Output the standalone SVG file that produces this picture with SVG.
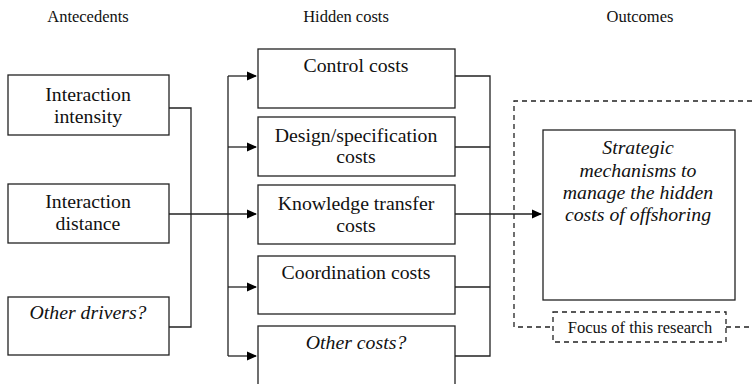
<svg xmlns="http://www.w3.org/2000/svg" width="752" height="384" viewBox="0 0 752 384">
<defs>
<marker id="arr" markerWidth="10" markerHeight="10" refX="9" refY="5" orient="auto" markerUnits="userSpaceOnUse">
<path d="M0,0.5 L10,5 L0,9.5 Z" fill="#000"/>
</marker>
</defs>
<style>
.box{fill:#fff;stroke:#222;stroke-width:1.3}
.t{font-size:19.8px;fill:#111;text-anchor:middle}
.i{font-style:italic}
.h{font-size:16.5px;fill:#111;text-anchor:middle}
.c{fill:none;stroke:#222;stroke-width:1.3}
.d{fill:none;stroke:#222;stroke-width:1.3;stroke-dasharray:5,4}
</style>
<rect width="752" height="384" fill="#fff"/>
<g font-family="'Liberation Serif', 'DejaVu Serif', serif">
<g id="headers">
<text class="h" x="88" y="22">Antecedents</text>
<text class="h" x="346" y="22">Hidden costs</text>
<text class="h" x="640" y="22">Outcomes</text>
</g>
<g id="focus-area">
<path class="d" d="M752,101 H514 V327 H553 M726,327 H752"/>
</g>
<g id="connectors">
<path class="c" d="M169,108 H191 V327 H169"/>
<path class="c" d="M169,214 H256" marker-end="url(#arr)"/>
<path class="c" d="M228,356 V76"/>
<path class="c" d="M228,76 H256" marker-end="url(#arr)"/>
<path class="c" d="M228,147 H256" marker-end="url(#arr)"/>
<path class="c" d="M228,287 H256" marker-end="url(#arr)"/>
<path class="c" d="M228,356 H256" marker-end="url(#arr)"/>
<path class="c" d="M455,76 H490 V356 H455 M455,147 H490 M455,287 H490"/>
<path class="c" d="M455,214 H541" marker-end="url(#arr)"/>
</g>
<g id="a1"><rect class="box" x="8" y="75" width="161" height="60"/>
<text class="t" x="88" y="101">Interaction</text><text class="t" x="88" y="123">intensity</text></g>
<g id="a2"><rect class="box" x="8" y="184" width="161" height="59"/>
<text class="t" x="88" y="208">Interaction</text><text class="t" x="88" y="230">distance</text></g>
<g id="a3"><rect class="box" x="8" y="297" width="161" height="58"/>
<text class="t i" x="88" y="319">Other drivers?</text></g>
<g id="h1"><rect class="box" x="258" y="49" width="197" height="59"/>
<text class="t" x="356" y="72">Control costs</text></g>
<g id="h2"><rect class="box" x="258" y="117" width="197" height="59"/>
<text class="t" x="356" y="142">Design/specification</text><text class="t" x="356" y="163">costs</text></g>
<g id="h3"><rect class="box" x="258" y="185" width="197" height="59"/>
<text class="t" x="356" y="210">Knowledge transfer</text><text class="t" x="356" y="232">costs</text></g>
<g id="h4"><rect class="box" x="258" y="256" width="197" height="58"/>
<text class="t" x="356" y="279">Coordination costs</text></g>
<g id="h5"><rect class="box" x="258" y="326" width="197" height="70"/>
<text class="t i" x="356" y="349">Other costs?</text></g>
<g id="outcome"><rect class="box" x="543" y="130" width="192" height="170"/>
<text class="t i" x="638" y="154">Strategic</text>
<text class="t i" x="638" y="177">mechanisms to</text>
<text class="t i" x="638" y="199">manage the hidden</text>
<text class="t i" x="638" y="221">costs of offshoring</text></g>
<g id="focus-label"><rect x="553" y="312" width="173" height="30" fill="#fff" stroke="#222" stroke-width="1.3" stroke-dasharray="5,4"/>
<text class="h" x="640" y="333">Focus of this research</text></g>
</g>
</svg>
